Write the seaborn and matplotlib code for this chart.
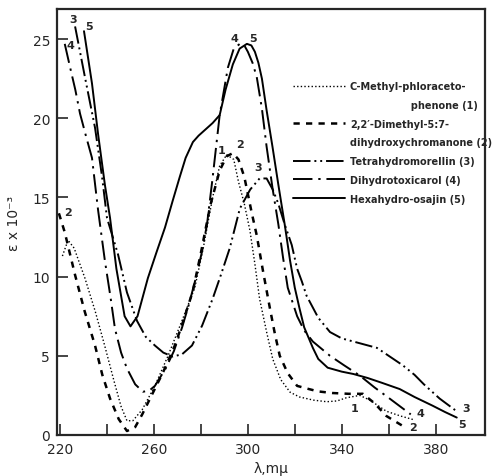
import pandas as pd
import seaborn as sns
import matplotlib.pyplot as plt
from matplotlib.lines import Line2D

# wavelength (m-mu) / extinction x 10^-3
wl_1 = [221, 223.4, 226, 230.6, 235, 239, 243, 246, 248.5, 251, 255, 260.4, 266, 271.9, 277.4, 281, 285,
        288, 291, 294, 296, 298.5, 300.9, 303, 305, 308, 310.6, 314, 318, 322, 328, 333.6, 338, 342, 347.7,
        352, 356, 359, 365, 371]
eps_1 = [11.3, 12.3, 11.8, 9.9, 7.8, 5.65, 3.4, 1.8, 0.9, 0.9, 1.6, 3.1, 5.0, 7.2, 9.3, 11.8, 15.0,
         17.0, 17.7, 17.4, 16.0, 14.6, 12.9, 10.8, 8.6, 6.5, 4.8, 3.5, 2.7, 2.4, 2.2, 2.1, 2.15, 2.35, 2.5,
         2.2, 1.8, 1.5, 1.2, 0.95]

wl_2 = [219.5, 222, 226.4, 230.5, 234.9, 238, 241.3, 245, 248.5, 252, 255, 259, 264, 268.9, 272.5, 276.6,
        280, 284, 288, 291, 293.6, 296, 298.5, 301.7, 303.8, 306.4, 309.4, 311.5, 313.6, 317, 321, 326,
        330, 336, 343, 349, 354, 359, 366]
eps_2 = [14.0, 12.8, 10.1, 7.8, 5.65, 3.8, 2.3, 1.0, 0.25, 0.5, 1.3, 2.5, 4.0, 5.65, 7.2, 9.1,
         11.5, 14.5, 16.7, 17.6, 17.8, 17.4, 16.3, 14.0, 12.6, 10.4, 8.0, 6.4, 5.0, 3.9, 3.1, 2.9,
         2.75, 2.65, 2.6, 2.6, 2.0, 1.2, 0.57]

wl_3 = [226.4, 230.6, 234.9, 237.9, 240, 244.7, 248.5, 252.8, 256.5, 260.4, 264, 268, 272, 276.2, 280.5,
        285, 288.5, 292.3, 296.6, 301, 305, 308, 310.6, 313, 315.7, 318.7, 321, 323, 325, 330, 335,
        340, 345, 350, 355, 360, 366, 371, 375, 381.7, 389.4]
eps_3 = [25.8, 22.6, 19.4, 16.3, 13.7, 11.4, 9.0, 7.2, 6.2, 5.65, 5.2, 4.95, 5.1, 5.65, 6.9,
         8.6, 10.1, 11.8, 14.3, 15.5, 16.2, 16.2, 15.5, 14.6, 13.3, 12.0, 10.5, 9.7, 8.8, 7.4, 6.5,
         6.1, 5.9, 5.7, 5.5, 5.0, 4.4, 3.8, 3.2, 2.3, 1.45]

wl_4 = [222, 224.3, 226.5, 228.5, 231, 233.6, 236.2, 239.1, 241.5, 243.4, 246, 248.5, 252, 255.3, 258,
        260.4, 265, 268.5, 272, 275, 278, 280.5, 282.6, 285, 288, 291.5, 294, 296.6, 298.5, 300,
        302, 303.8, 306, 308, 310.5, 313, 315, 317, 321, 324, 327.7, 335, 341, 347.7, 354, 360.4, 369.4]
eps_4 = [24.7, 23.2, 21.8, 20.3, 18.9, 17.5, 14.2, 11.0, 8.7, 6.7, 5.2, 4.2, 3.2, 2.73, 2.8,
         3.1, 4.2, 5.3, 6.8, 8.3, 10.0, 11.6, 13.3, 16.25, 20.2, 23.2, 24.4, 24.7, 24.6, 24.2,
         23.5, 22.6, 20.6, 18.2, 15.6, 13.3, 11.2, 9.3, 7.5, 6.6, 5.9, 5.0, 4.4, 3.75, 3.0, 2.3, 1.3]

wl_5 = [230.2, 233.6, 236.2, 239.1, 241.3, 244, 247.5, 250, 253, 257.4, 261, 264.7, 268, 271, 273.5,
        276.6, 279, 282, 285, 288, 290.5, 293.6, 296.5, 299.6, 301.5, 303, 304.5, 306, 308, 310.5,
        313, 315.7, 318, 320, 322, 324, 327.7, 330, 334, 340, 345, 351, 357, 364.7, 371, 378.7, 384, 389]
eps_5 = [25.5, 22.2, 19.0, 15.8, 13.7, 10.5, 7.5, 6.86, 7.5, 9.9, 11.5, 13.1, 14.8, 16.3, 17.5,
         18.5, 18.9, 19.3, 19.7, 20.2, 21.8, 23.4, 24.4, 24.7, 24.6, 24.2, 23.5, 22.5, 20.5, 18.2,
         15.8, 13.3, 11.0, 9.3, 8.0, 6.8, 5.5, 4.8, 4.25, 4.0, 3.85, 3.6, 3.3, 2.9, 2.4, 1.85, 1.45, 1.1]

# legend rows; the second line of a two-line name is its own row with no line
labels = ['C-Methyl-phloraceto-',
          '                  phenone (1)',
          "2,2\u2032-Dimethyl-5:7-",
          'dihydroxychromanone (2)',
          'Tetrahydromorellin (3)',
          'Dihydrotoxicarol (4)',
          'Hexahydro-osajin (5)']

series = [(wl_1, eps_1), (wl_2, eps_2), (wl_3, eps_3), (wl_4, eps_4), (wl_5, eps_5)]
styles = [dict(ls=(0, (1, 1.6)), lw=1.0),
          dict(ls=(0, (2.5, 2.5)), lw=1.8),
          dict(ls=(0, (9, 2, 1, 2, 1, 2)), lw=1.4),
          dict(ls=(0, (10, 3, 1.2, 3)), lw=1.4),
          dict(ls='-', lw=1.4)]

# curve number tags (as printed next to the curves)
tags = [('1', 288.9, 18.0), ('2', 296.6, 18.4), ('3', 304.3, 16.9), ('4', 294.5, 25.1), ('5', 302.0, 25.1),
        ('3', 225.5, 26.3), ('4', 224.4, 24.6), ('5', 232.2, 25.8), ('2', 223.2, 14.1),
        ('1', 345.5, 1.7), ('2', 370.2, 0.5), ('4', 373.4, 1.4), ('3', 393.2, 1.7), ('5', 391.2, 0.7)]

sns.set_style('ticks')
plt.rcParams['font.family'] = ['DejaVu Sans']

fig = plt.figure(figsize=(4.97, 4.77), dpi=100)
ax = fig.add_axes([0.1147, 0.086, 0.861, 0.893])

lines = []
for (x, y), st in zip(series, styles):
    df = pd.DataFrame({'wl': x, 'eps': y})
    sns.lineplot(data=df, x='wl', y='eps', ax=ax, sort=False, color='black',
                 linestyle=st['ls'], linewidth=st['lw'], estimator=None)
    lines.append(ax.lines[-1])

for t, x, y in tags:
    ax.text(x, y, t, fontsize=8, fontweight='bold', ha='center', va='center')

ax.set_xlim(218.7, 401)
ax.set_ylim(0, 26.9)
ax.set_xticks([220, 240, 260, 280, 300, 320, 340, 360, 380])
ax.set_xticklabels(['220', '', '260', '', '300', '', '340', '', '380'])
ax.set_yticks([0, 5, 10, 15, 20, 25])
ax.tick_params(direction='in', length=8, width=1.2, labelsize=10, pad=5)
for s in ax.spines.values():
    s.set_linewidth(1.6)
ax.set_xlabel('\u03bb,m\u03bc', fontsize=10, labelpad=4)
ax.set_ylabel('\u03b5 x 10\u207b\u00b3', fontsize=10, labelpad=8)

blank = Line2D([], [], linestyle='none')
handles = [lines[0], blank, lines[1], blank, lines[2], lines[3], lines[4]]
leg = fig.legend(handles, labels, loc='upper left', bbox_to_anchor=(0.5895, 0.828),
                 frameon=False, fontsize=7.0, handlelength=5.35, handletextpad=0.5,
                 labelspacing=0.9, borderaxespad=0, borderpad=0)
for txt in leg.get_texts():
    txt.set_fontweight('bold')

fig.savefig('out.png', dpi=100)
